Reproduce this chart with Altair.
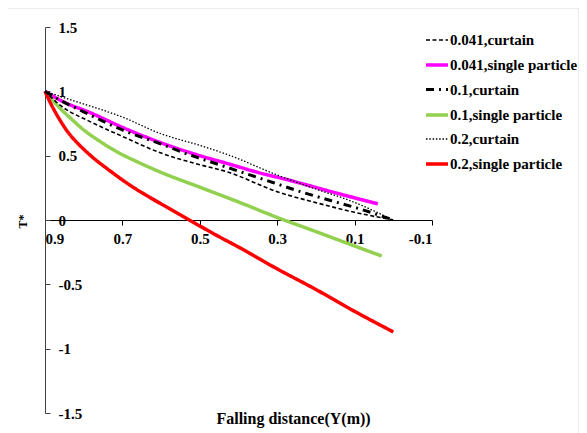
import altair as alt
import pandas as pd

series = ["0.041,curtain", "0.041,single particle", "0.1,curtain",
          "0.1,single particle", "0.2,curtain", "0.2,single particle"]
colors = ["#000000", "#ff00ff", "#000000", "#92d050", "#000000", "#ff0000"]
dashes = [[4, 2.5], [1, 0], [8, 5, 2, 5], [1, 0], [1.5, 1.8], [1, 0]]
widths = [1.6, 3.5, 3.0, 3.5, 1.3, 3.5]

x_c041 = [0.9, 0.86, 0.78, 0.7, 0.6, 0.5, 0.43, 0.3, 0.2, 0.1, 0.0]
y_c041 = [1.0, 0.89, 0.76, 0.65, 0.52, 0.43, 0.375, 0.22, 0.135, 0.06, 0.0]

x_s041 = [0.9, 0.86, 0.78, 0.7, 0.6, 0.5, 0.43, 0.35, 0.27, 0.16, 0.04]
y_s041 = [1.0, 0.93, 0.83, 0.72, 0.6, 0.5, 0.44, 0.37, 0.31, 0.22, 0.125]

x_c01 = [0.9, 0.86, 0.8, 0.7, 0.6, 0.525, 0.45, 0.38, 0.3, 0.24, 0.16, 0.08, 0.0]
y_c01 = [1.0, 0.93, 0.84, 0.70, 0.59, 0.505, 0.43, 0.36, 0.28, 0.22, 0.15, 0.08, 0.0]

x_s01 = [0.9, 0.88, 0.86, 0.83, 0.8, 0.76, 0.72, 0.66, 0.6, 0.5, 0.4, 0.3, 0.2, 0.12, 0.03]
y_s01 = [1.0, 0.93, 0.865, 0.78, 0.70, 0.615, 0.54, 0.45, 0.37, 0.255, 0.14, 0.02,
         -0.09, -0.18, -0.28]

x_c02 = [0.9, 0.83, 0.7, 0.6, 0.5, 0.43, 0.3, 0.19, 0.12, 0.0]
y_c02 = [1.0, 0.93, 0.80, 0.67, 0.58, 0.51, 0.35, 0.23, 0.16, 0.0]

x_s02 = [0.9, 0.88, 0.86, 0.84, 0.82, 0.8, 0.77, 0.74, 0.72, 0.68, 0.64, 0.6, 0.55,
         0.527, 0.45, 0.4, 0.3, 0.2, 0.1, 0.0]
y_s02 = [1.0, 0.875, 0.77, 0.68, 0.61, 0.55, 0.47, 0.40, 0.355, 0.27, 0.195, 0.125,
         0.04, 0.0, -0.13, -0.21, -0.38, -0.54, -0.71, -0.87]

x_ticks = [0.9, 0.7, 0.5, 0.3, 0.1, -0.1]
y_ticks = [-1.5, -1.0, -0.5, 0.0, 0.5, 1.0, 1.5]

all_x = [x_c041, x_s041, x_c01, x_s01, x_c02, x_s02]
all_y = [y_c041, y_s041, y_c01, y_s01, y_c02, y_s02]
draw_order = [1, 3, 5, 0, 2, 4]

rows = []
for k, si in enumerate(draw_order):
    for i, (xv, yv) in enumerate(zip(all_x[si], all_y[si])):
        rows.append({"series": series[si], "x": xv, "y": yv, "i": i, "z": k})
df = pd.DataFrame(rows)

FONT = "Liberation Serif"
FS = 15
W, H = 387, 386
MINUS = "replace(datum.label, '\u2212', '-')"

lines = alt.Chart(df).mark_line(clip=False, interpolate="monotone").encode(
    x=alt.X("x:Q", scale=alt.Scale(domain=[0.9, -0.1], nice=False, zero=False),
            axis=alt.Axis(values=x_ticks, format=".1~f", labelExpr=MINUS, orient="bottom",
                          offset=-H / 2, grid=False, tickSize=5, labelPadding=6,
                          domainColor="#000000", tickColor="#000000", labelFont=FONT,
                          labelFontWeight="bold", labelFontSize=FS, labelColor="#000000",
                          title="Falling distance(Y(m))", titleFont=FONT,
                          titleFontWeight="bold", titleFontSize=16, titleColor="#000000",
                          titleX=248, titleY=198, titleAnchor="middle",
                          titleBaseline="middle")),
    y=alt.Y("y:Q", scale=alt.Scale(domain=[-1.5, 1.5], nice=False, zero=False),
            axis=alt.Axis(values=y_ticks, format="~g", labelExpr=MINUS, orient="right",
                          offset=-W, grid=False, tickSize=5, labelPadding=8,
                          domainColor="#404040", tickColor="#404040", labelFont=FONT,
                          labelFontWeight="bold", labelFontSize=FS, labelColor="#000000",
                          labelAlign="left",
                          title="T*", titleFont=FONT, titleFontWeight="bold",
                          titleFontSize=12, titleColor="#000000", titleAngle=270,
                          titleX=-23, titleY=194, titleBaseline="middle")),
    color=alt.Color("series:N", scale=alt.Scale(domain=series, range=colors), title=None),
    strokeDash=alt.StrokeDash("series:N", scale=alt.Scale(domain=series, range=dashes),
                              title=None),
    strokeWidth=alt.StrokeWidth("series:N",
                                scale=alt.Scale(type="ordinal", domain=series, range=widths),
                                title=None),
    order=alt.Order("i:Q"),
    detail="z:N",
)

frame = alt.Chart(alt.Data(values=[{}])).mark_rect(
    fill="transparent", stroke="#d9d9d9", strokeWidth=1, clip=False
).encode(
    x=alt.value(-38), x2=alt.value(534), y=alt.value(-19), y2=alt.value(425)
)

chart = alt.layer(frame, lines).properties(
    width=W, height=H,
    autosize=alt.AutoSizeParams(type="none"),
    padding={"left": 37, "top": 19, "right": 147, "bottom": 25},
).configure_view(stroke=None).configure_legend(
    orient="none", legendX=379, legendY=1, symbolType="stroke", symbolSize=484,
    labelFont=FONT, labelFontWeight="bold", labelFontSize=15, labelColor="#000000",
    rowPadding=4, labelOffset=0, padding=0, labelLimit=300,
)

chart.save("out.html", embed_options={"renderer": "svg", "actions": False})
